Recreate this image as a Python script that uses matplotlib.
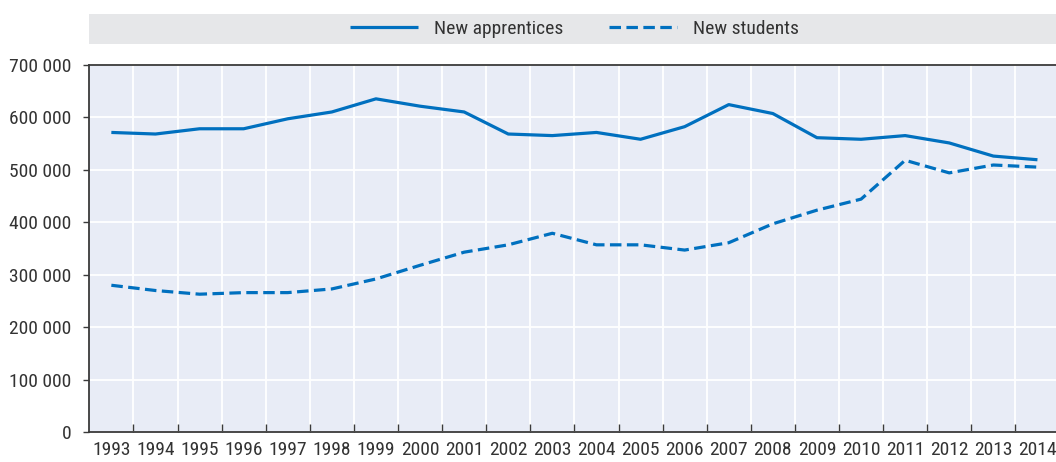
import matplotlib
matplotlib.use("Agg")
import matplotlib.pyplot as plt
from matplotlib import font_manager
from matplotlib.patches import Rectangle
from matplotlib.ticker import FuncFormatter, MultipleLocator, FixedLocator

years = [str(y) for y in range(1993, 2015)]
apprentices = [571000, 568000, 578000, 578000, 597000, 610000, 635000, 621000,
               610000, 568000, 565000, 571000, 558000, 582000, 624000, 607000,
               561000, 558000, 565000, 551000, 526000, 519000]
students = [280000, 270000, 263000, 266000, 266000, 273000, 292000, 318000,
            343000, 357000, 379000, 357000, 357000, 347000, 361000, 397000,
            423000, 444000, 518000, 494000, 509000, 505000]
series_labels = ["New apprentices", "New students"]

names = {f.name for f in font_manager.fontManager.ttflist}
family = None
for cand in ["Liberation Sans Narrow", "Arial Narrow", "Roboto Condensed", "Liberation Sans"]:
    if cand in names:
        family = cand
        break
if family:
    plt.rcParams["font.family"] = [family, "DejaVu Sans"]

W, H = 1056, 462
fig = plt.figure(figsize=(W / 100, H / 100), dpi=100)

blue = "#0070BF"
text_col = "#333333"
axis_col = "#3a3a3a"

# legend band
fig.add_artist(Rectangle((89.3 / W, (H - 44.3) / H), 1.0, 30.3 / H,
                         transform=fig.transFigure, facecolor="#E6E7E9",
                         edgecolor="none", zorder=0))

left = 89.3 / W
right = 1059.5 / W
bottom = (H - 432.3) / H
top = (H - 64.7) / H
ax = fig.add_axes([left, bottom, right - left, top - bottom])
ax.set_facecolor("#E8ECF6")

x = list(range(len(years)))
l1, = ax.plot(x, apprentices, color=blue, lw=2.3, solid_capstyle="butt",
              label=series_labels[0], zorder=3)
l2, = ax.plot(x, students, color=blue, lw=2.3, linestyle=(0, (3.6, 1.7)),
              label=series_labels[1], zorder=3)

ax.set_xlim(-0.5, len(years) - 0.5)
ax.set_ylim(0, 700000)

ax.set_xticks(x)
ax.set_xticklabels(years)
ax.xaxis.set_minor_locator(FixedLocator([i + 0.5 for i in range(len(years) - 1)]))
ax.tick_params(axis="x", which="major", length=0, pad=6, labelsize=14,
               labelcolor=text_col)
ax.tick_params(axis="x", which="minor", length=6, width=1, direction="in",
               color=axis_col)
ax.grid(True, axis="x", which="minor", color="white", lw=1.3, zorder=1)

ax.yaxis.set_major_locator(MultipleLocator(100000))
ax.yaxis.set_major_formatter(FuncFormatter(
    lambda v, p: "0" if v == 0 else f"{int(v):,}".replace(",", " ")))
ax.tick_params(axis="y", which="major", length=4, width=1, direction="out",
               pad=9, labelsize=14, labelcolor=text_col, color=axis_col)
ax.grid(True, axis="y", which="major", color="white", lw=1.3, zorder=1)
ax.set_axisbelow(True)

for s in ["left", "bottom", "top"]:
    ax.spines[s].set_color(axis_col)
    ax.spines[s].set_linewidth(1.3)
ax.spines["right"].set_visible(False)

fig.legend(handles=[l1, l2], loc="center",
           bbox_to_anchor=(574.5 / W, (H - 29) / H), ncol=2, frameon=False,
           fontsize=14, labelcolor=text_col, handlelength=3.5,
           handletextpad=0.85, columnspacing=2.3, borderpad=0)

fig.savefig("out.png", dpi=100)
